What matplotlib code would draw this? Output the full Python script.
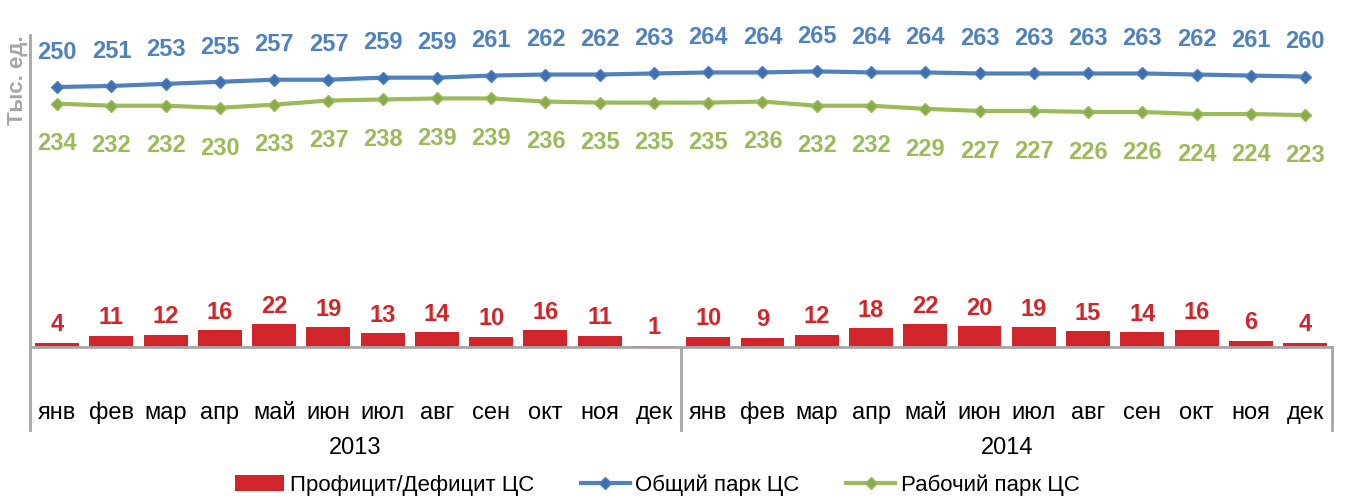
import numpy as np
import matplotlib.pyplot as plt

months = ["янв", "фев", "мар", "апр", "май", "июн", "июл", "авг", "сен", "окт", "ноя", "дек"]
years = ["2013", "2014"]
total_park = [250, 251, 253, 255, 257, 257, 259, 259, 261, 262, 262, 263,
              264, 264, 265, 264, 264, 263, 263, 263, 263, 262, 261, 260]
working_park = [234, 232, 232, 230, 233, 237, 238, 239, 239, 236, 235, 235,
                235, 236, 232, 232, 229, 227, 227, 226, 226, 224, 224, 223]
surplus = [4, 11, 12, 16, 22, 19, 13, 14, 10, 16, 11, 1,
           10, 9, 12, 18, 22, 20, 19, 15, 14, 16, 6, 4]

RED = "#D0262B"
BLUE = "#4F81BD"
GREEN = "#9BBB59"
GRAY = "#A6A6A6"

plt.rcParams["font.family"] = ["Liberation Sans", "DejaVu Sans"]


def main():
    fig = plt.figure(figsize=(13.47, 5.0), dpi=100)
    ax = fig.add_axes([0.0223, 0.306, 0.9667, 0.624])

    n = len(total_park)
    x = np.arange(n)

    bars = ax.bar(x, surplus, width=0.81, color=RED, label="Профицит/Дефицит ЦС", zorder=2)
    l1, = ax.plot(x, total_park, color=BLUE, lw=3, marker="D", ms=6, mfc="#3F6FAE", mec=BLUE,
                  label="Общий парк ЦС", zorder=3)
    l2, = ax.plot(x, working_park, color=GREEN, lw=3, marker="D", ms=6, mfc="#8AAA4C", mec=GREEN,
                  label="Рабочий парк ЦС", zorder=3)

    lbl = dict(ha="center", va="center", fontsize=17, fontweight="bold")
    for i in range(n):
        ax.annotate(str(total_park[i]), (x[i], total_park[i]), xytext=(0, 25),
                    textcoords="offset points", color=BLUE, **lbl)
        ax.annotate(str(working_park[i]), (x[i], working_park[i]), xytext=(0, -29),
                    textcoords="offset points", color=GREEN, **lbl)
        ax.annotate(str(surplus[i]), (x[i], surplus[i]), xytext=(0, 13),
                    textcoords="offset points", color=RED, **lbl)

    ax.set_xlim(-0.5, n - 0.5)
    ax.set_ylim(0, 300)
    ax.set_yticks([])
    ax.set_xticks([])
    for s in ["top", "right"]:
        ax.spines[s].set_visible(False)
    ax.spines["left"].set_color(GRAY)
    ax.spines["left"].set_linewidth(2)
    ax.spines["bottom"].set_color(GRAY)
    ax.spines["bottom"].set_linewidth(2)

    ax.text(-0.010, 1.0, "Тыс. ед.", transform=ax.transAxes, rotation=90, ha="center",
            va="top", color=GRAY, fontsize=16, fontweight="bold")

    # category box below the axis
    tr = ax.get_xaxis_transform()
    for xb in [-0.5, 11.5, n - 0.5]:
        ax.plot([xb, xb], [0, -0.266], transform=tr, color=GRAY, lw=2, clip_on=False)
    for i in range(n):
        ax.text(x[i], -0.212, months[i % 12], transform=tr, ha="center", va="center",
                fontsize=17)
    for k, y in enumerate(years):
        ax.text(5.5 + 12 * k, -0.325, y, transform=tr, ha="center", va="center", fontsize=17)

    fig.legend([bars, l1, l2], [bars.get_label(), l1.get_label(), l2.get_label()],
               loc="center", bbox_to_anchor=(0.488, 0.03), ncol=3, frameon=False,
               fontsize=16, handlelength=2.2, handletextpad=0.25, columnspacing=2.1)

    plt.savefig("out.png", dpi=100)


if __name__ == '__main__':
    main()
